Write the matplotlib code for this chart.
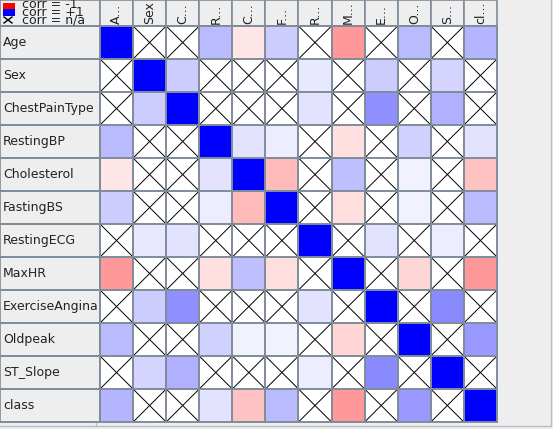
import numpy as np
import matplotlib
matplotlib.use("Agg")
import matplotlib.pyplot as plt
from matplotlib.patches import Rectangle

names = ["Age", "Sex", "ChestPainType", "RestingBP", "Cholesterol", "FastingBS",
         "RestingECG", "MaxHR", "ExerciseAngina", "Oldpeak", "ST_Slope", "class"]
col_labels = ["A...", "Sex", "C...", "R...", "C...", "F...", "R...", "M...",
              "E...", "O...", "S...", "cl..."]
legend_labels = ["corr = -1", "corr = +1", "corr = n/a"]

n = np.nan
corr = np.array([
    # Age  Sex   CPT   RBP   Chol   FBS   RECG  MaxHR  ExAng Oldpk STSl  class
    [1.00, n,    n,    0.27, -0.10, 0.20, n,    -0.40, n,    0.27, n,    0.29],
    [n,    1.00, 0.20, n,    n,     n,    0.09, n,     0.20, n,    0.17, n],
    [n,    0.20, 1.00, n,    n,     n,    0.11, n,     0.44, n,    0.31, n],
    [0.27, n,    n,    1.00, 0.11,  0.07, n,    -0.12, n,    0.18, n,    0.11],
    [-0.10, n,   n,    0.11, 1.00,  -0.27, n,   0.25,  n,    0.05, n,    -0.24],
    [0.20, n,    n,    0.07, -0.27, 1.00, n,    -0.13, n,    0.05, n,    0.27],
    [n,    0.09, 0.11, n,    n,     n,    1.00, n,     0.11, n,    0.07, n],
    [-0.40, n,   n,    -0.12, 0.25, -0.13, n,   1.00,  n,    -0.16, n,   -0.40],
    [n,    0.20, 0.44, n,    n,     n,    0.11, n,     1.00, n,    0.46, n],
    [0.27, n,    n,    0.18, 0.05,  0.05, n,    -0.16, n,    1.00, n,    0.40],
    [n,    0.17, 0.31, n,    n,     n,    0.07, n,     0.46, n,    1.00, n],
    [0.29, n,    n,    0.11, -0.24, 0.27, n,    -0.40, n,    0.40, n,    1.00],
])

W, H = 553, 429
fig = plt.figure(figsize=(W / 100, H / 100), dpi=100)
ax = fig.add_axes([0, 0, 1, 1])
ax.set_xlim(0, W)
ax.set_ylim(H, 0)
ax.axis("off")
fig.patch.set_facecolor("#eeeeee")

x0, y0, cw, ch = 100, 26, 33.08, 33.0
grid = "#7f8c99"
k = len(names)

def color(v):
    if v >= 0:
        return (1 - v, 1 - v, 1.0)
    return (1.0, 1 + v, 1 + v)

# header corner
ax.add_patch(Rectangle((0, 0), x0, y0, facecolor="#eeeeee", edgecolor=grid, lw=1.2))
# column headers
for j, lab in enumerate(col_labels):
    ax.add_patch(Rectangle((x0 + j * cw, 0), cw, y0, facecolor="#eeeeee",
                           edgecolor=grid, lw=1.2))
    ax.text(x0 + (j + 0.5) * cw, y0 - 2, lab, rotation=90, ha="center", va="bottom",
            fontsize=9, color="#222222")
# row headers
for i, lab in enumerate(names):
    ax.add_patch(Rectangle((0, y0 + i * ch), x0, ch, facecolor="#eeeeee",
                           edgecolor=grid, lw=1.2))
    ax.text(3, y0 + (i + 0.5) * ch, lab, ha="left", va="center", fontsize=9,
            color="#222222")
# cells
for i in range(k):
    for j in range(k):
        v = corr[i, j]
        x, y = x0 + j * cw, y0 + i * ch
        if np.isnan(v):
            ax.add_patch(Rectangle((x, y), cw, ch, facecolor="white", edgecolor="none"))
            ax.plot([x, x + cw], [y, y + ch], color="black", lw=0.7)
            ax.plot([x, x + cw], [y + ch, y], color="black", lw=0.7)
        else:
            ax.add_patch(Rectangle((x, y), cw, ch, facecolor=color(v), edgecolor="none"))
for j in range(k + 1):
    ax.plot([x0 + j * cw] * 2, [y0, y0 + k * ch], color=grid, lw=1.4)
for i in range(k + 1):
    ax.plot([0, x0 + k * cw], [y0 + i * ch] * 2, color=grid, lw=1.4)

# viewport border
ax.plot([0, W - 2, W - 2], [H - 3, H - 3, 0], color="#b8bec6", lw=1.0)
ax.plot([x0 - 4, x0 - 4], [y0 + k * ch + 1, H - 3], color="#b8bec6", lw=1.0)

# legend
ax.add_patch(Rectangle((3, 3), 12, 6, facecolor="red", edgecolor="none"))
ax.add_patch(Rectangle((3, 9), 12, 7, facecolor="blue", edgecolor="none"))
ax.plot([4, 12], [17, 23], color="black", lw=1.0)
ax.plot([4, 12], [23, 17], color="black", lw=1.0)
for t, yb in zip(legend_labels, [8.5, 16, 23.5]):
    txt = ax.text(22, yb, t, ha="left", va="baseline", fontsize=9, color="#222222")
    txt.set_clip_path(Rectangle((0, 0), x0, y0, transform=ax.transData))

fig.savefig("out.png", dpi=100, facecolor=fig.get_facecolor())
